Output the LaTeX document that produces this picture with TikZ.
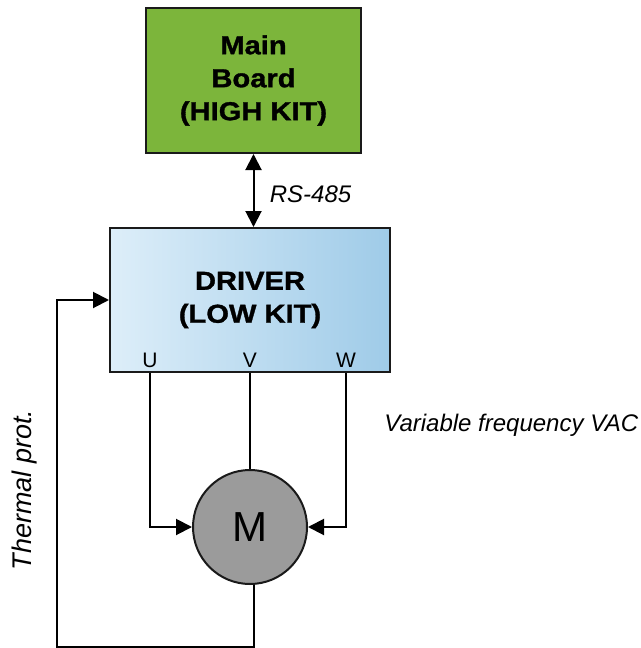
\documentclass[tikz,border=0pt]{standalone}
\usepackage{fontspec}
\setmainfont{Liberation Sans}
\newfontfamily\boxfont[FakeStretch=1.12, BoldFeatures={FakeBold=1.2}]{Liberation Sans}
\usepackage{tikz}
\usetikzlibrary{arrows.meta, positioning, shapes}

\definecolor{boardgreen}{RGB}{124,181,59}
\definecolor{driverlight}{RGB}{221,238,249}
\definecolor{driverdark}{RGB}{159,203,232}
\definecolor{motorgray}{RGB}{155,155,155}
\definecolor{edgeblack}{RGB}{26,26,26}

\begin{document}
\begin{tikzpicture}[
				x=0.5pt, y=-0.5pt,
				node distance=36.5pt and 20pt,
				board/.style={rectangle, draw=edgeblack, line width=1pt, align=center,
					font=\boxfont\bfseries\fontsize{13}{16.5}\selectfont},
				phase/.style={font=\fontsize{10.5}{12}\selectfont, inner sep=0pt},
				label/.style={font=\itshape\fontsize{12}{14}\selectfont, inner sep=0pt},
				arrow/.style={-{Triangle[length=8pt, width=8pt]}, line width=1pt},
				biarrow/.style={{Triangle[length=8pt, width=8pt]}-{Triangle[length=8pt, width=8pt]}, line width=1pt}
				]
				\useasboundingbox (0,0) rectangle (641,648);
				
				% driver
				\node[board, minimum width=140pt, minimum height=72pt,
					left color=driverlight, right color=driverdark] (driver) at (250,300) {DRIVER\\(LOW KIT)};
				
				% main board
				\node[board, fill=boardgreen, minimum width=107.5pt, minimum height=72.5pt,
					above=of driver, xshift=1.75pt] (main) {Main\\Board\\(HIGH KIT)};
				
				% motor
				\node[circle, draw=edgeblack, line width=1pt, fill=motorgray, minimum size=57pt,
					font=\fontsize{21}{24}\selectfont, below=48pt of driver] (motor) {M};
				
				% phases
				\node[phase] (U) at (150,360) {U};
				\node[phase] (V) at (250,360) {V};
				\node[phase] (W) at (346,360) {W};
				
				% labels
				\node[label, right=8pt of main.south, yshift=-20pt] (rs) {RS-485};
				\node[label, anchor=west] (vac) at (384,425) {Variable frequency VAC};
				\node[label, rotate=90, font=\itshape\fontsize{13.5}{15}\selectfont] (therm) at (25,490) {Thermal prot.};
				\coordinate (fb) at (57,647);
				
				% connections
				\draw[biarrow] (main.south) -- (main.south |- driver.north);
				\draw[arrow] (driver.south -| U) |- (motor.west);
				\draw[line width=1pt] (driver.south -| V) -- (motor.north);
				\draw[arrow] (driver.south -| W) |- (motor.east);
				\draw[arrow] ([xshift=2pt]motor.south) |- (fb) |- (driver.west);
				
			\end{tikzpicture}
\end{document}
